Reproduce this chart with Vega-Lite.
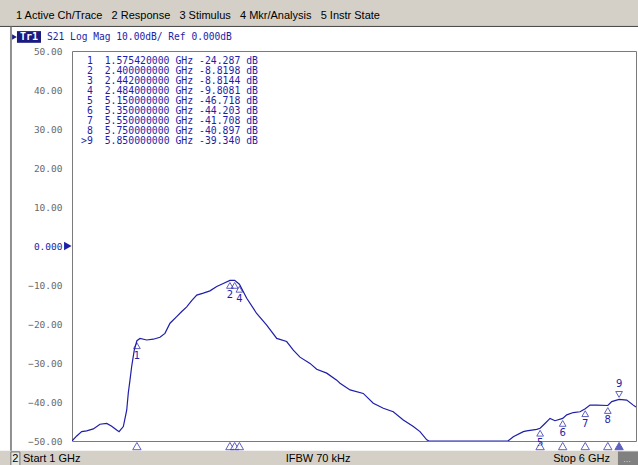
{
  "$schema": "https://vega.github.io/schema/vega-lite/v6.json",
  "width": 564,
  "height": 390,
  "autosize": {"type": "none"},
  "padding": {"left": 72, "top": 51, "right": 2, "bottom": 24},
  "background": "white",
  "config": {"view": {"stroke": "#7a7a7a", "strokeWidth": 1}, "axis": {"labelOverlap": false, "labelSeparation": 0}},
  "datasets": {
    "trace": [
      {"f": 1.000, "db": -50.0}, {"f": 1.042, "db": -48.7}, {"f": 1.086, "db": -47.6}, {"f": 1.130, "db": -47.4},
      {"f": 1.189, "db": -46.9}, {"f": 1.248, "db": -45.7}, {"f": 1.308, "db": -45.5}, {"f": 1.352, "db": -46.2},
      {"f": 1.396, "db": -47.2}, {"f": 1.417, "db": -47.6}, {"f": 1.455, "db": -46.3}, {"f": 1.485, "db": -42.1},
      {"f": 1.499, "db": -37.7}, {"f": 1.514, "db": -34.4}, {"f": 1.529, "db": -30.9}, {"f": 1.552, "db": -26.7},
      {"f": 1.5754, "db": -24.287}, {"f": 1.603, "db": -23.7}, {"f": 1.662, "db": -24.1}, {"f": 1.721, "db": -23.9},
      {"f": 1.780, "db": -23.4}, {"f": 1.824, "db": -22.4}, {"f": 1.869, "db": -19.8}, {"f": 1.928, "db": -18.1},
      {"f": 1.973, "db": -16.8}, {"f": 2.017, "db": -15.6}, {"f": 2.061, "db": -14.0}, {"f": 2.106, "db": -12.6},
      {"f": 2.164, "db": -12.1}, {"f": 2.223, "db": -11.5}, {"f": 2.283, "db": -10.4}, {"f": 2.341, "db": -9.6},
      {"f": 2.400, "db": -8.82}, {"f": 2.442, "db": -8.81}, {"f": 2.484, "db": -9.81}, {"f": 2.549, "db": -13.4},
      {"f": 2.637, "db": -17.3}, {"f": 2.726, "db": -20.3}, {"f": 2.815, "db": -23.7}, {"f": 2.903, "db": -24.5},
      {"f": 2.962, "db": -26.7}, {"f": 3.021, "db": -28.5}, {"f": 3.110, "db": -30.1}, {"f": 3.169, "db": -31.6},
      {"f": 3.258, "db": -32.6}, {"f": 3.347, "db": -34.4}, {"f": 3.376, "db": -35.2}, {"f": 3.465, "db": -36.9},
      {"f": 3.582, "db": -37.8}, {"f": 3.671, "db": -40.3}, {"f": 3.760, "db": -41.6}, {"f": 3.848, "db": -42.5},
      {"f": 3.937, "db": -44.6}, {"f": 4.026, "db": -46.3}, {"f": 4.085, "db": -47.6}, {"f": 4.145, "db": -49.7},
      {"f": 4.165, "db": -50.0}, {"f": 4.865, "db": -50.0}, {"f": 4.912, "db": -48.9}, {"f": 5.001, "db": -47.6},
      {"f": 5.031, "db": -47.4}, {"f": 5.120, "db": -47.0}, {"f": 5.150, "db": -46.718}, {"f": 5.193, "db": -45.5},
      {"f": 5.238, "db": -44.2}, {"f": 5.282, "db": -44.8}, {"f": 5.350, "db": -44.203}, {"f": 5.386, "db": -43.3},
      {"f": 5.444, "db": -42.7}, {"f": 5.504, "db": -42.5}, {"f": 5.550, "db": -41.708}, {"f": 5.592, "db": -40.8},
      {"f": 5.652, "db": -40.8}, {"f": 5.750, "db": -40.897}, {"f": 5.785, "db": -39.9}, {"f": 5.850, "db": -39.34},
      {"f": 5.918, "db": -39.5}, {"f": 5.976, "db": -40.8}, {"f": 6.000, "db": -41.3}
    ],
    "markers": [
      {"n": 1, "f": 1.57542, "db": -24.287, "label": "1\u00a0\u00a01.575420000\u00a0GHz\u00a0-24.287\u00a0dB"},
      {"n": 2, "f": 2.400, "db": -8.8198, "label": "2\u00a0\u00a02.400000000\u00a0GHz\u00a0-8.8198\u00a0dB"},
      {"n": 3, "f": 2.442, "db": -8.8144, "label": "3\u00a0\u00a02.442000000\u00a0GHz\u00a0-8.8144\u00a0dB"},
      {"n": 4, "f": 2.484, "db": -9.8081, "label": "4\u00a0\u00a02.484000000\u00a0GHz\u00a0-9.8081\u00a0dB"},
      {"n": 5, "f": 5.150, "db": -46.718, "label": "5\u00a0\u00a05.150000000\u00a0GHz\u00a0-46.718\u00a0dB"},
      {"n": 6, "f": 5.350, "db": -44.203, "label": "6\u00a0\u00a05.350000000\u00a0GHz\u00a0-44.203\u00a0dB"},
      {"n": 7, "f": 5.550, "db": -41.708, "label": "7\u00a0\u00a05.550000000\u00a0GHz\u00a0-41.708\u00a0dB"},
      {"n": 8, "f": 5.750, "db": -40.897, "label": "8\u00a0\u00a05.750000000\u00a0GHz\u00a0-40.897\u00a0dB"},
      {"n": 9, "f": 5.850, "db": -39.340, "label": ">9\u00a0\u00a05.850000000\u00a0GHz\u00a0-39.340\u00a0dB"}
    ],
    "header": [{"menu": "1 Active Ch/Trace\u00a0\u00a0\u00a02 Response\u00a0\u00a0\u00a03 Stimulus\u00a0\u00a0\u00a04 Mkr/Analysis\u00a0\u00a0\u00a05 Instr State",
                "trace": "S21 Log Mag 10.00dB/ Ref 0.000dB", "tr": "Tr1",
                "start": "Start 1 GHz", "ifbw": "IFBW 70 kHz", "stop": "Stop 6 GHz", "ch": "2", "more": "..."}]
  },
  "resolve": {"scale": {"y": "independent"}},
  "layer": [
    {
      "layer": [
        {
          "data": {"name": "header"},
          "mark": {"type": "rect", "color": "#d4d0c8"},
          "encoding": {"x": {"datum": 0.36, "type": "quantitative"}, "x2": {"datum": 6.02}, "y": {"datum": 63.2, "type": "quantitative"}, "y2": {"datum": 56.4}}
        },
        {
          "data": {"name": "header"},
          "mark": {"type": "rect", "color": "#d4d0c8"},
          "encoding": {"x": {"datum": 0.36, "type": "quantitative"}, "x2": {"datum": 6.02}, "y": {"datum": -52.5, "type": "quantitative"}, "y2": {"datum": -56.3}}
        },
        {
          "data": {"name": "header"},
          "mark": {"type": "rect", "color": "#808080"},
          "encoding": {"x": {"datum": 5.84, "type": "quantitative"}, "x2": {"datum": 6.02}, "y": {"datum": -52.7, "type": "quantitative"}, "y2": {"datum": -56.3}}
        },
        {
          "data": {"name": "header"},
          "mark": {"type": "rect", "fill": "#e8e6e0", "stroke": "#707070", "strokeWidth": 1},
          "encoding": {"x": {"datum": 0.458, "type": "quantitative"}, "x2": {"datum": 0.538}, "y": {"datum": -52.8, "type": "quantitative"}, "y2": {"datum": -56.3}}
        },
        {
          "data": {"name": "header"},
          "mark": {"type": "rule", "color": "#404040", "strokeWidth": 1},
          "encoding": {"x": {"datum": 0.36, "type": "quantitative"}, "x2": {"datum": 6.02}, "y": {"datum": 56.3, "type": "quantitative"}}
        },
        {
          "data": {"name": "header"},
          "mark": {"type": "rule", "color": "#909090", "strokeWidth": 2},
          "encoding": {"x": {"datum": 0.459, "type": "quantitative"}, "y": {"datum": 56.2, "type": "quantitative"}, "y2": {"datum": -52.5}}
        },
        {
          "data": {"name": "trace"},
          "mark": {"type": "line", "color": "#1e1ea8", "strokeWidth": 1.2, "clip": true},
          "encoding": {
            "x": {"field": "f", "type": "quantitative", "scale": {"domain": [1, 6], "nice": false, "zero": false},
                  "axis": {"values": [1, 1.5, 2, 2.5, 3, 3.5, 4, 4.5, 5, 5.5, 6], "tickCount": 20, "labels": false, "ticks": false, "domain": false, "title": null, "gridColor": "#d8d8d8", "gridOpacity": 1}},
            "y": {"field": "db", "type": "quantitative", "scale": {"domain": [-50, 50], "nice": false, "zero": false},
                  "axis": {"values": [-50, -40, -30, -20, -10, 0, 10, 20, 30, 40, 50], "tickCount": 20, "ticks": false, "domain": false, "title": null,
                           "labelOverlap": false, "labelFlush": false, "labelBound": false, "labelSeparation": 0,
                           "labelExpr": "datum.value == 0 ? '0.000' : format(datum.value, '.2f')",
                           "labelFont": "DejaVu Sans Mono", "labelFontSize": 9.5, "labelPadding": 10,
                           "labelColor": {"condition": {"test": "datum.value == 0", "value": "#1e1ea8"}, "value": "#6a6a6a"},
                           "gridColor": "#d8d8d8", "gridOpacity": 1}}
          }
        },
        {
          "data": {"name": "markers"},
          "transform": [{"filter": "datum.n < 9"}],
          "mark": {"type": "point", "shape": "triangle-up", "filled": false, "color": "#1e1ea8", "size": 45, "strokeWidth": 1, "yOffset": 5},
          "encoding": {"x": {"field": "f", "type": "quantitative"}, "y": {"field": "db", "type": "quantitative"}}
        },
        {
          "data": {"name": "markers"},
          "transform": [{"filter": "datum.n < 9 && datum.n != 3"}],
          "mark": {"type": "text", "color": "#1e1ea8", "font": "DejaVu Sans", "fontSize": 10, "yOffset": 15},
          "encoding": {"x": {"field": "f", "type": "quantitative"}, "y": {"field": "db", "type": "quantitative"}, "text": {"field": "n"}}
        },
        {
          "data": {"name": "markers"},
          "transform": [{"filter": "datum.n == 9"}],
          "mark": {"type": "point", "shape": "triangle-down", "filled": false, "color": "#1e1ea8", "size": 45, "strokeWidth": 1, "yOffset": -5},
          "encoding": {"x": {"field": "f", "type": "quantitative"}, "y": {"field": "db", "type": "quantitative"}}
        },
        {
          "data": {"name": "markers"},
          "transform": [{"filter": "datum.n == 9"}],
          "mark": {"type": "text", "color": "#1e1ea8", "font": "DejaVu Sans", "fontSize": 10, "yOffset": -15},
          "encoding": {"x": {"field": "f", "type": "quantitative"}, "y": {"field": "db", "type": "quantitative"}, "text": {"field": "n"}}
        },
        {
          "data": {"name": "markers"},
          "mark": {"type": "point", "shape": "triangle-up", "size": 70, "strokeWidth": 1, "color": "#1e1ea8"},
          "encoding": {
            "x": {"field": "f", "type": "quantitative"},
            "y": {"datum": -51.3, "type": "quantitative"},
            "fill": {"condition": {"test": "datum.n == 9", "value": "#1e1ea8"}, "value": "white"}
          }
        },
        {
          "data": {"name": "header"},
          "mark": {"type": "point", "shape": "triangle-right", "size": 75, "filled": true, "opacity": 1, "color": "#1e1ea8"},
          "encoding": {"x": {"datum": 0.963, "type": "quantitative"}, "y": {"datum": 0, "type": "quantitative"}}
        },
        {
          "data": {"name": "header"},
          "mark": {"type": "text", "align": "left", "baseline": "middle", "font": "Liberation Sans", "fontSize": 11, "color": "black"},
          "encoding": {"x": {"datum": 0.5035, "type": "quantitative"}, "y": {"datum": 58.97, "type": "quantitative"}, "text": {"field": "menu"}}
        },
        {
          "data": {"name": "header"},
          "mark": {"type": "rect", "color": "#1a1a80"},
          "encoding": {"x": {"datum": 0.512, "type": "quantitative"}, "x2": {"datum": 0.725}, "y": {"datum": 55.1, "type": "quantitative"}, "y2": {"datum": 52.1}}
        },
        {
          "data": {"name": "header"},
          "mark": {"type": "point", "shape": "triangle-right", "size": 30, "filled": true, "opacity": 1, "color": "#1a1a80"},
          "encoding": {"x": {"datum": 0.49, "type": "quantitative"}, "y": {"datum": 53.6, "type": "quantitative"}}
        },
        {
          "data": {"name": "header"},
          "mark": {"type": "text", "align": "center", "baseline": "middle", "font": "DejaVu Sans Mono", "fontSize": 10, "fontWeight": "bold", "color": "white"},
          "encoding": {"x": {"datum": 0.6185, "type": "quantitative"}, "y": {"datum": 53.6, "type": "quantitative"}, "text": {"field": "tr"}}
        },
        {
          "data": {"name": "header"},
          "mark": {"type": "text", "align": "left", "baseline": "middle", "font": "DejaVu Sans Mono", "fontSize": 9.6, "color": "#1e1ea8"},
          "encoding": {"x": {"datum": 0.7784, "type": "quantitative"}, "y": {"datum": 53.6, "type": "quantitative"}, "text": {"field": "trace"}}
        },
        {
          "data": {"name": "header"},
          "mark": {"type": "text", "align": "center", "baseline": "middle", "font": "Liberation Sans", "fontSize": 11, "color": "black"},
          "encoding": {"x": {"datum": 0.498, "type": "quantitative"}, "y": {"datum": -54.6, "type": "quantitative"}, "text": {"field": "ch"}}
        },
        {
          "data": {"name": "header"},
          "mark": {"type": "text", "align": "left", "baseline": "middle", "font": "Liberation Sans", "fontSize": 11, "color": "black"},
          "encoding": {"x": {"datum": 0.5655, "type": "quantitative"}, "y": {"datum": -54.6, "type": "quantitative"}, "text": {"field": "start"}}
        },
        {
          "data": {"name": "header"},
          "mark": {"type": "text", "align": "center", "baseline": "middle", "font": "Liberation Sans", "fontSize": 11, "color": "black"},
          "encoding": {"x": {"datum": 3.181, "type": "quantitative"}, "y": {"datum": -54.6, "type": "quantitative"}, "text": {"field": "ifbw"}}
        },
        {
          "data": {"name": "header"},
          "mark": {"type": "text", "align": "right", "baseline": "middle", "font": "Liberation Sans", "fontSize": 11, "color": "black"},
          "encoding": {"x": {"datum": 5.7695, "type": "quantitative"}, "y": {"datum": -54.6, "type": "quantitative"}, "text": {"field": "stop"}}
        },
        {
          "data": {"name": "header"},
          "mark": {"type": "text", "align": "center", "baseline": "middle", "font": "Liberation Sans", "fontSize": 9, "color": "#d0d0d0"},
          "encoding": {"x": {"datum": 5.92, "type": "quantitative"}, "y": {"datum": -54.6, "type": "quantitative"}, "text": {"field": "more"}}
        }
      ]
    },
    {
      "data": {"name": "markers"},
      "mark": {"type": "text", "align": "right", "baseline": "middle", "font": "DejaVu Sans Mono", "fontSize": 9.8, "color": "#1e1ea8"},
      "encoding": {
        "x": {"datum": 2.649, "type": "quantitative"},
        "y": {"field": "n", "type": "quantitative", "scale": {"domain": [0, 39], "reverse": true, "nice": false, "zero": false}, "axis": null},
        "text": {"field": "label"}
      }
    }
  ]
}
